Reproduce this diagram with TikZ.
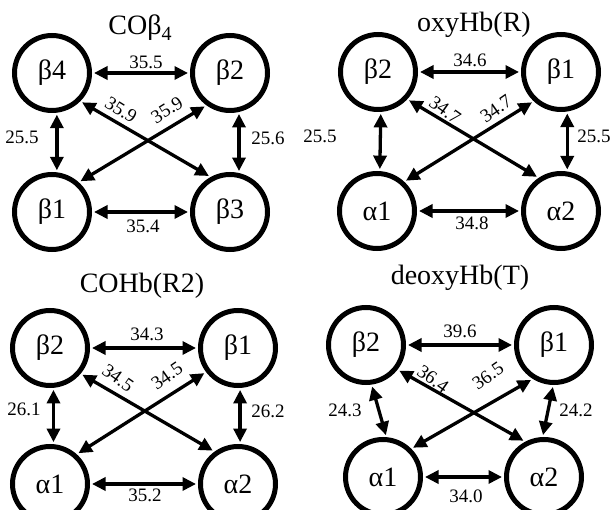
\documentclass[tikz,border=0pt]{standalone}
\usepackage{fontspec}
\setmainfont{Liberation Serif}
\usetikzlibrary{arrows.meta}
\begin{document}
\begin{tikzpicture}[x=1pt,y=-1pt,
  sub/.style={circle,draw,line width=5pt,minimum size=75pt,inner sep=0pt,font=\fontsize{28}{28}\selectfont},
  link/.style={line width=3.3pt,{Triangle[length=13.5pt,width=13pt]}-{Triangle[length=13.5pt,width=13pt]},shorten <=2pt,shorten >=2pt},
  dist/.style={inner sep=0pt,font=\fontsize{19}{19}\selectfont},
  caption/.style={inner sep=0pt,font=\fontsize{28}{28}\selectfont}]
\useasboundingbox (0,0) rectangle (611,510);

% ---- CO beta4 ----
\node[caption] (t1) at (140,28) {COβ\raisebox{-6pt}{\fontsize{20}{20}\selectfont 4}};
\node[sub] (p1b4) at (52,73)  {β4};
\node[sub] (p1b2) at (230,73) {β2};
\node[sub] (p1b1) at (52,212) {β1};
\node[sub] (p1b3) at (230,212){β3};
\draw[link] (p1b4.east) -- (p1b2.west);
\draw[link] (p1b1.east) -- (p1b3.west);
\draw[link] (p1b4.-83) -- (p1b1.83);
\draw[link] (p1b2.-77) -- (p1b3.77);
\draw[link] (p1b4.-45) -- (p1b3.119);
\draw[link] (p1b1.48) -- (p1b2.234);
\node[dist] (l1a) at (146,62) {35.5};
\node[dist] (l1b) at (143,226) {35.4};
\node[dist] (l1c) at (22,137) {25.5};
\node[dist] (l1d) at (268,138) {25.6};
\node[dist,rotate=-32] (l1e) at (121,110) {35.9};
\node[dist,rotate=32] (l1f) at (167,110) {35.9};

% ---- oxyHb(R) ----
\node[caption] (t2) at (474,25) {oxyHb(R)};
\node[sub] (p2b2) at (378,72) {β2};
\node[sub] (p2b1) at (561,72) {β1};
\node[sub] (p2a1) at (377,211) {α1};
\node[sub] (p2a2) at (561,211) {α2};
\draw[link] (p2b2.east) -- (p2b1.west);
\draw[link] (p2a1.east) -- (p2a2.west);
\draw[link] (p2b2.-86) -- (p2a1.86);
\draw[link] (p2b1.-81) -- (p2a2.81);
\draw[link] (p2b2.-43) -- (p2a2.124);
\draw[link] (p2a1.47) -- (p2b1.227);
\node[dist] (l2a) at (470,60) {34.6};
\node[dist] (l2b) at (472,223) {34.8};
\node[dist] (l2c) at (320,136) {25.5};
\node[dist] (l2d) at (594,136) {25.5};
\node[dist,rotate=-35] (l2e) at (445,110) {34.7};
\node[dist,rotate=35] (l2f) at (496,109) {34.7};

% ---- COHb(R2) ----
\node[caption] (t3) at (142,286) {COHb(R2)};
\node[sub] (p3b2) at (50,348) {β2};
\node[sub] (p3b1) at (238,348) {β1};
\node[sub] (p3a1) at (50,484) {α1};
\node[sub] (p3a2) at (238,484) {α2};
\draw[link] (p3b2.east) -- (p3b1.west);
\draw[link] (p3a1.east) -- (p3a2.west);
\draw[link] (p3b2.-85) -- (p3a1.85);
\draw[link] (p3b1.-87) -- (p3a2.87);
\draw[link] (p3b2.-40) -- (p3a2.126);
\draw[link] (p3a1.48) -- (p3b1.217);
\node[dist] (l3a) at (147,334) {34.3};
\node[dist] (l3b) at (145,495) {35.2};
\node[dist] (l3c) at (24,409) {26.1};
\node[dist] (l3d) at (268,411) {26.2};
\node[dist,rotate=-35] (l3e) at (118,378) {34.5};
\node[dist,rotate=35] (l3f) at (167,376) {34.5};

% ---- deoxyHb(T) ----
\node[caption] (t4) at (460,278) {deoxyHb(T)};
\node[sub] (p4b2) at (366,345) {β2};
\node[sub] (p4b1) at (554,345) {β1};
\node[sub] (p4a1) at (383,477) {α1};
\node[sub] (p4a2) at (544,477) {α2};
\draw[link] (p4b2.east) -- (p4b1.west);
\draw[link] (p4a1.east) -- (p4a2.west);
\draw[link] (p4b2.-82) -- (p4a1.85);
\draw[link] (p4b1.-91) -- (p4a2.92);
\draw[link] (p4b2.-38) -- (p4a2.118);
\draw[link] (p4a1.45) -- (p4b1.238);
\node[dist] (l4a) at (460,331) {39.6};
\node[dist] (l4b) at (466,496) {34.0};
\node[dist] (l4c) at (345,410) {24.3};
\node[dist] (l4d) at (576,410) {24.2};
\node[dist,rotate=-35] (l4e) at (433,379) {36.4};
\node[dist,rotate=35] (l4f) at (488,376) {36.5};
\end{tikzpicture}
\end{document}
